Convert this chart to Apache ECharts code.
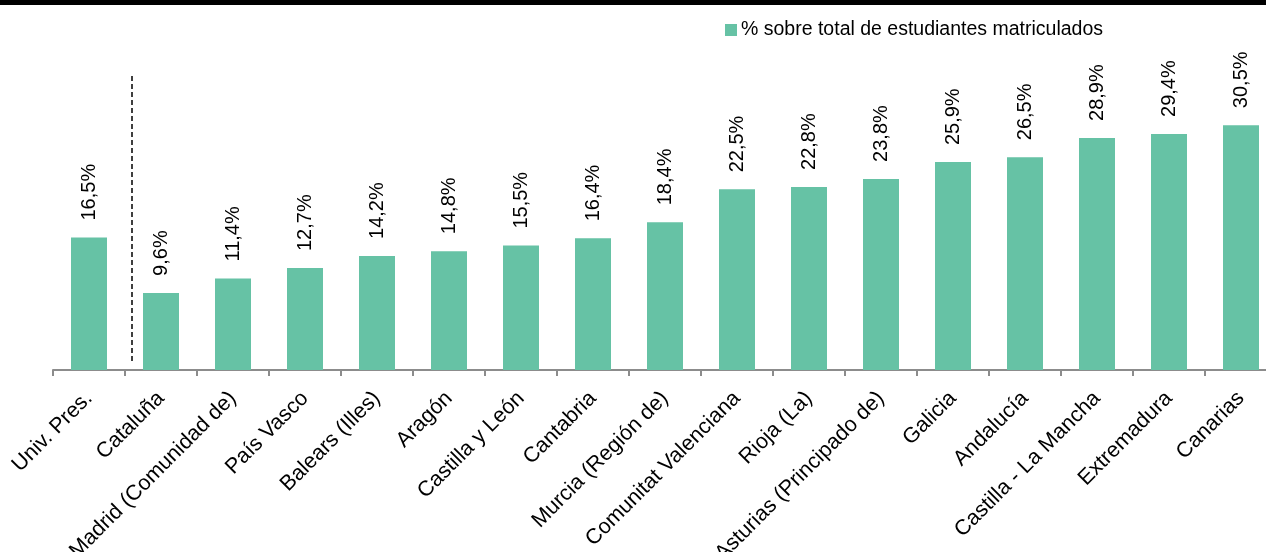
<!DOCTYPE html>
<html>
<head>
<meta charset="utf-8">
<title>Estudiantes matriculados</title>
<script src="https://cdn.jsdelivr.net/npm/echarts@6/dist/echarts.min.js"></script>
<style>
  html, body { margin: 0; padding: 0; background: #fff; overflow: hidden; }
  /* the original plot runs a little past the right edge of the picture */
  #wrap { width: 1266px; height: 552px; overflow: hidden; }
  #chart { width: 1278px; height: 552px; }
</style>
</head>
<body>
<div id="wrap"><div id="chart"></div></div>
<script>
// Data
const categories = [
  'Univ. Pres.', 'Cataluña', 'Madrid (Comunidad de)', 'País Vasco', 'Balears (Illes)',
  'Aragón', 'Castilla y León', 'Cantabria', 'Murcia (Región de)', 'Comunitat Valenciana',
  'Rioja (La)', 'Asturias (Principado de)', 'Galicia', 'Andalucía', 'Castilla - La Mancha',
  'Extremadura', 'Canarias'
]
const pctValues = [16.5, 9.6, 11.4, 12.7, 14.2, 14.8, 15.5, 16.4, 18.4, 22.5, 22.8, 23.8, 25.9, 26.5, 28.9, 29.4, 30.5]
const seriesName = '% sobre total de estudiantes matriculados'

const barColor = '#66c2a5'
const font = '"Liberation Sans", Arial, sans-serif'

const chart = echarts.init(document.getElementById('chart'))

chart.setOption({
  animation: false,
  backgroundColor: '#fff',
  textStyle: { fontFamily: font },
  legend: {
    top: 15,
    left: 720,
    itemWidth: 12,
    itemHeight: 12,
    icon: 'rect',
    textStyle: { fontSize: 19.5, color: '#000', fontFamily: font, padding: [0, 0, 0, -1] },
    data: [seriesName]
  },
  grid: {
    top: 89,
    left: 53,
    right: 1,
    bottom: 182,
    containLabel: false,
    outerBoundsMode: 'none'
  },
  xAxis: {
    type: 'category',
    data: categories,
    axisLine: { lineStyle: { color: '#8c8c8c', width: 2 } },
    axisTick: { show: true, length: 6, lineStyle: { color: '#8c8c8c', width: 2 } },
    axisLabel: {
      rotate: 45,
      interval: 0,
      margin: 25,
      fontSize: 21.5,
      color: '#000',
      fontFamily: font
    }
  },
  yAxis: {
    type: 'value',
    min: 0,
    max: 35,
    show: false,
    splitLine: { show: false }
  },
  series: [{
    name: seriesName,
    type: 'bar',
    data: pctValues,
    barWidth: '50%',
    itemStyle: { color: barColor },
    label: {
      show: true,
      position: 'top',
      rotate: 90,
      distance: 17,
      align: 'left',
      verticalAlign: 'middle',
      fontSize: 20,
      color: '#000',
      fontFamily: font,
      formatter: p => p.value.toFixed(1).replace('.', ',') + '%'
    }
  }]
})

// top black band and separator after the reference bar
const x0 = chart.convertToPixel({ xAxisIndex: 0 }, 0)
const x1 = chart.convertToPixel({ xAxisIndex: 0 }, 1)
const sepX = (x0 + x1) / 2 + 7
chart.setOption({
  graphic: [
    {
      type: 'rect',
      shape: { x: 0, y: 0, width: 1278, height: 5 },
      style: { fill: '#000' }
    },
    {
      type: 'line',
      shape: { x1: sepX, y1: 76, x2: sepX, y2: 363 },
      style: { stroke: '#000', lineWidth: 1.5, lineDash: [5, 3] }
    }
  ]
})
</script>
</body>
</html>
